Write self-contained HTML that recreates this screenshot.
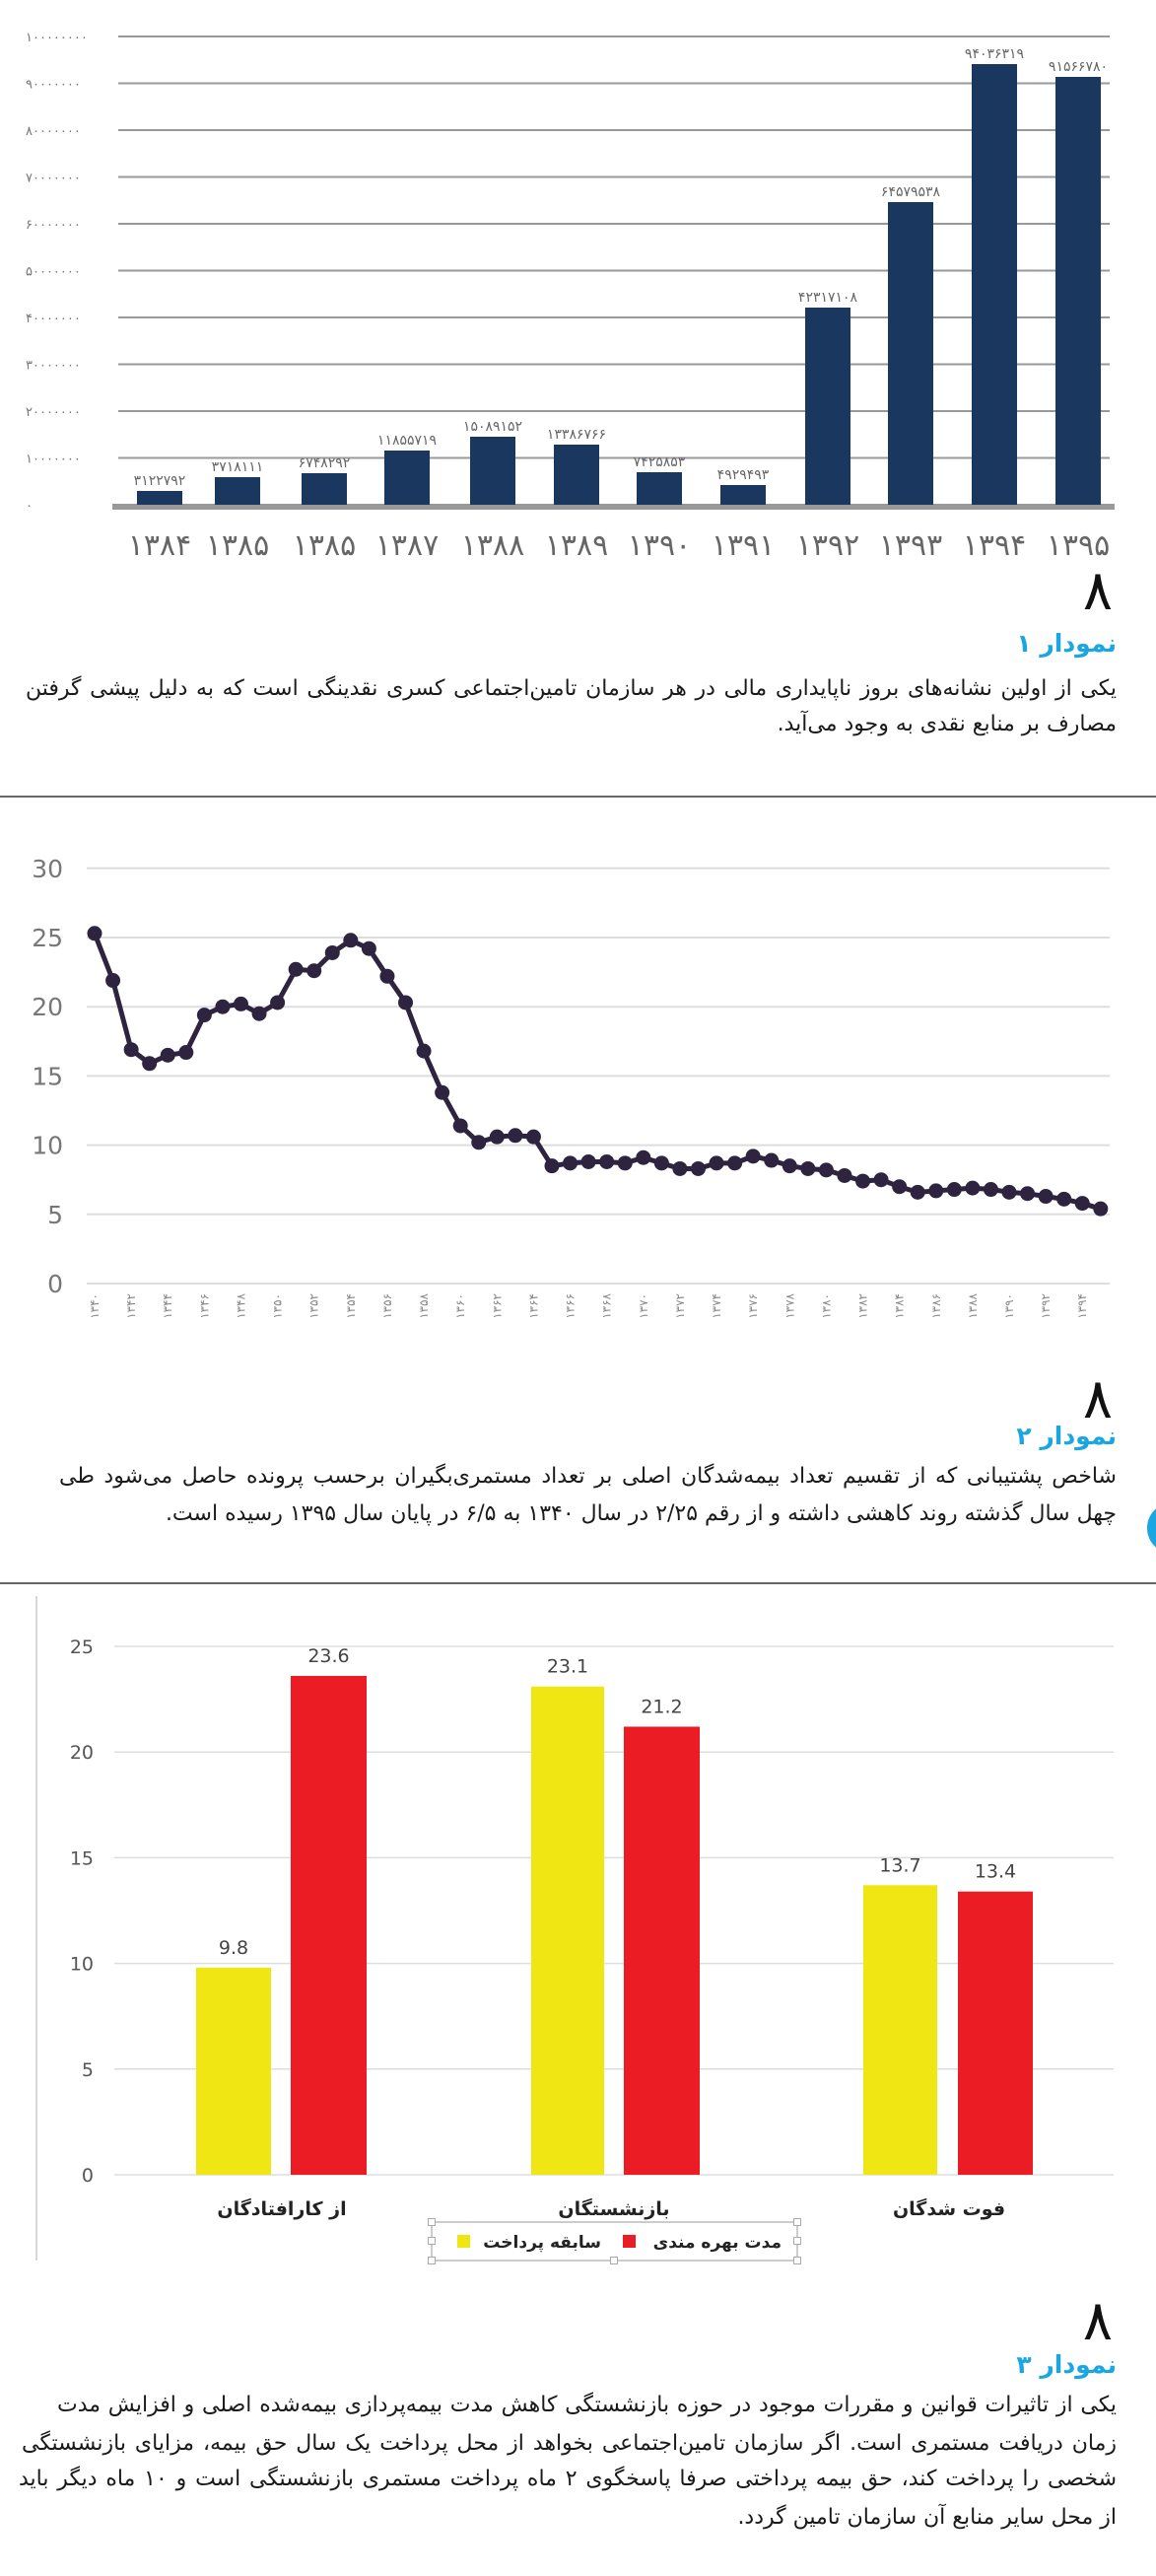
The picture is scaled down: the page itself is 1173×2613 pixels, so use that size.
<!DOCTYPE html>
<html><head><meta charset="utf-8">
<style>
html,body{margin:0;padding:0;background:#fff;}
body{width:1173px;height:2613px;position:relative;overflow:hidden;font-family:"DejaVu Sans","Liberation Sans",sans-serif;}
.ln{position:absolute;direction:rtl;white-space:nowrap;font-size:22px;color:#1a1a1a;line-height:30px;}
.j{text-align:justify;text-align-last:justify;}
.r{text-align:right;}
.ttl{position:absolute;right:40px;direction:rtl;font-weight:bold;color:#1aa6e0;font-size:25px;}
.eight{position:absolute;right:44px;font-size:56px;line-height:56px;color:#111;}
</style></head><body>
<svg id="s" width="1173" height="2613" style="position:absolute;left:0;top:0" xmlns="http://www.w3.org/2000/svg" font-family="DejaVu Sans, Liberation Sans, sans-serif">
<g id="c1"></g><g id="c2"></g><g id="c3"></g>
<line x1="0" y1="808" x2="1173" y2="808" stroke="#666" stroke-width="2"/>
<line x1="0" y1="1606" x2="1173" y2="1606" stroke="#666" stroke-width="2"/>
<circle cx="1190" cy="1550" r="26" fill="#1aa6e0"/>
</svg>

<div class="eight" style="top:572px">۸</div>
<div class="ttl" style="top:638px">نمودار ۱</div>
<div class="ln j" style="top:684px;left:26px;right:40px">یکی از اولین نشانه‌های بروز ناپایداری مالی در هر سازمان تامین‌اجتماعی کسری نقدینگی است که به دلیل پیشی گرفتن</div>
<div class="ln r" style="top:720px;right:40px">مصارف بر منابع نقدی به وجود می‌آید.</div>

<div class="eight" style="top:1392px">۸</div>
<div class="ttl" style="top:1442px">نمودار ۲</div>
<div class="ln j" style="top:1483px;left:60px;right:40px">شاخص پشتیبانی که از تقسیم تعداد بیمه‌شدگان اصلی بر تعداد مستمری‌بگیران برحسب پرونده حاصل می‌شود طی</div>
<div class="ln r" style="top:1521px;right:40px">چهل سال گذشته روند کاهشی داشته و از رقم ۲/۲۵ در سال ۱۳۴۰ به ۶/۵ در پایان سال ۱۳۹۵ رسیده است.</div>

<div class="eight" style="top:2327px">۸</div>
<div class="ttl" style="top:2384px">نمودار ۳</div>
<div class="ln j" style="top:2425px;left:58px;right:40px">یکی از تاثیرات قوانین و مقررات موجود در حوزه بازنشستگی کاهش مدت بیمه‌پردازی بیمه‌شده اصلی و افزایش مدت</div>
<div class="ln j" style="top:2464px;left:22px;right:40px">زمان دریافت مستمری است. اگر سازمان تامین‌اجتماعی بخواهد از محل پرداخت یک سال حق بیمه، مزایای بازنشستگی</div>
<div class="ln j" style="top:2500px;left:19px;right:40px">شخصی را پرداخت کند، حق بیمه پرداختی صرفا پاسخگوی ۲ ماه پرداخت مستمری بازنشستگی است و ۱۰ ماه دیگر باید</div>
<div class="ln r" style="top:2539px;right:40px">از محل سایر منابع آن سازمان تامین گردد.</div>

<script>
var NS="http://www.w3.org/2000/svg";
function el(p,t,a,txt){var e=document.createElementNS(NS,t);for(var k in a)e.setAttribute(k,a[k]);if(txt!=null)e.textContent=txt;p.appendChild(e);return e;}
var fa="۰۱۲۳۴۵۶۷۸۹";function F(n){return String(n).replace(/\d/g,function(d){return fa[d];});}
var c1=document.getElementById("c1");
var ylab=["۱۰۰۰۰۰۰۰۰","۹۰۰۰۰۰۰۰","۸۰۰۰۰۰۰۰","۷۰۰۰۰۰۰۰","۶۰۰۰۰۰۰۰","۵۰۰۰۰۰۰۰","۴۰۰۰۰۰۰۰","۳۰۰۰۰۰۰۰","۲۰۰۰۰۰۰۰","۱۰۰۰۰۰۰۰","۰"];
for(var i=0;i<=10;i++){var y=37+47.5*i;if(i<10)el(c1,"line",{x1:120,x2:1126,y1:y,y2:y,stroke:"#999","stroke-width":2});
el(c1,"text",{x:26,y:y+5,"font-size":13,fill:"#777"},ylab[i]);}
el(c1,"rect",{x:114,y:511,width:1017,height:6,fill:"#999"});
var cx=[162,241,329,413,500,585,669,754,840,924,1009,1094];
var tops=[498,484,480,457,443,451,479,492,312,205,65,78];
var vl=["۳۱۲۲۷۹۲","۳۷۱۸۱۱۱","۶۷۴۸۲۹۲","۱۱۸۵۵۷۱۹","۱۵۰۸۹۱۵۲","۱۳۳۸۶۷۶۶","۷۴۲۵۸۵۳","۴۹۲۹۴۹۳","۴۲۳۱۷۱۰۸","۶۴۵۷۹۵۳۸","۹۴۰۳۶۳۱۹","۹۱۵۶۶۷۸۰"];
var xl=["۱۳۸۴","۱۳۸۵","۱۳۸۵","۱۳۸۷","۱۳۸۸","۱۳۸۹","۱۳۹۰","۱۳۹۱","۱۳۹۲","۱۳۹۳","۱۳۹۴","۱۳۹۵"];
for(i=0;i<12;i++){el(c1,"rect",{x:cx[i]-23,y:tops[i],width:46,height:512-tops[i],fill:"#19375f"});
el(c1,"text",{x:cx[i],y:tops[i]-6,"font-size":14,fill:"#666","text-anchor":"middle"},vl[i]);
el(c1,"text",{x:cx[i],y:563,"font-size":30,fill:"#666","text-anchor":"middle"},xl[i]);}
var c2=document.getElementById("c2");
for(i=0;i<=6;i++){var y=1302-70.2*i;el(c2,"line",{x1:88,x2:1126,y1:y,y2:y,stroke:"#ddd","stroke-width":2});
el(c2,"text",{x:64,y:y+9,"font-size":25,fill:"#777","text-anchor":"end"},String(i*5));}
var v=[25.3,21.9,16.9,15.9,16.5,16.7,19.4,20.0,20.2,19.5,20.3,22.7,22.6,23.9,24.8,24.2,22.2,20.3,16.8,13.8,11.4,10.2,10.6,10.7,10.6,8.5,8.7,8.8,8.8,8.7,9.1,8.7,8.3,8.3,8.7,8.7,9.2,8.9,8.5,8.3,8.2,7.8,7.4,7.5,7.0,6.6,6.7,6.8,6.9,6.8,6.6,6.5,6.3,6.1,5.8,5.4];
var pts=[];for(i=0;i<v.length;i++){var x=96+i*18.56,y=1302-v[i]*14.04;pts.push(x+","+y);}
el(c2,"polyline",{points:pts.join(" "),fill:"none",stroke:"#2e2440","stroke-width":5,"stroke-linejoin":"round"});
for(i=0;i<v.length;i++){var p=pts[i].split(",");el(c2,"circle",{cx:p[0],cy:p[1],r:7.5,fill:"#2e2440"});}
for(i=0;i<v.length;i+=2){var x=96+i*18.56;el(c2,"text",{x:0,y:0,"font-size":12,fill:"#888","text-anchor":"end",transform:"translate("+(x+4)+",1312) rotate(-90)"},F(1340+i));}
var c3=document.getElementById("c3");
el(c3,"line",{x1:37,x2:37,y1:1619,y2:2293,stroke:"#ccc","stroke-width":1.5});
for(i=0;i<=5;i++){var y=2206-107.2*i;el(c3,"line",{x1:116,x2:1130,y1:y,y2:y,stroke:"#ddd","stroke-width":1.5});
el(c3,"text",{x:95,y:y+7,"font-size":19,fill:"#555","text-anchor":"end"},String(i*5));}
var bars=[[199,275,9.8,"#f0e614"],[295,372,23.6,"#ec1c24"],[539,613,23.1,"#f0e614"],[633,710,21.2,"#ec1c24"],[876,951,13.7,"#f0e614"],[972,1048,13.4,"#ec1c24"]];
bars.forEach(function(b){var t=2206-b[2]*21.44;el(c3,"rect",{x:b[0],y:t,width:b[1]-b[0],height:2206-t,fill:b[3]});
el(c3,"text",{x:(b[0]+b[1])/2,y:t-14,"font-size":19,fill:"#444","text-anchor":"middle"},String(b[2]));});
var cats=[[286,"از کارافتادگان"],[623,"بازنشستگان"],[963,"فوت شدگان"]];
cats.forEach(function(c){el(c3,"text",{x:c[0],y:2247,"font-size":19,"font-weight":"bold",fill:"#222","text-anchor":"middle",direction:"rtl"},c[1]);});
el(c3,"rect",{x:438,y:2254,width:371,height:39,fill:"none",stroke:"#bbb","stroke-width":1.5});
[[438,2254],[809,2254],[438,2273],[809,2273],[623,2293],[438,2293],[809,2293]].forEach(function(h){el(c3,"rect",{x:h[0]-3.5,y:h[1]-3.5,width:7,height:7,fill:"#fff",stroke:"#aaa"});});
el(c3,"rect",{x:464,y:2267,width:13,height:13,fill:"#f0e614"});
el(c3,"text",{x:610,y:2280,"font-size":17,"font-weight":"bold",fill:"#222","text-anchor":"start",direction:"rtl"},"سابقه پرداخت");
el(c3,"rect",{x:632,y:2267,width:13,height:13,fill:"#ec1c24"});
el(c3,"text",{x:793,y:2280,"font-size":17,"font-weight":"bold",fill:"#222","text-anchor":"start",direction:"rtl"},"مدت بهره مندی");
</script>
</body></html>
